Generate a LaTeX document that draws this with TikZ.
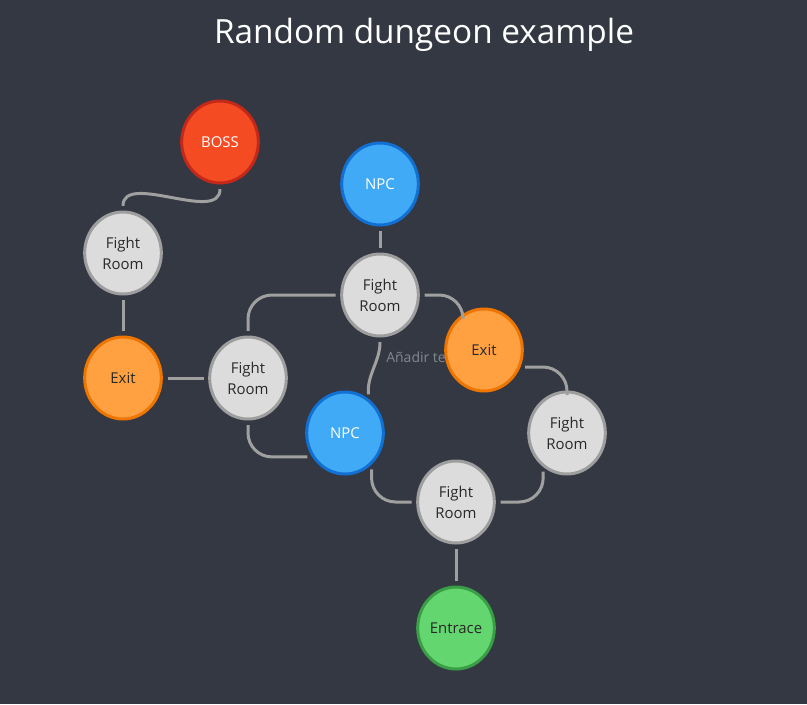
\documentclass[tikz,border=0pt]{standalone}
\usepackage{fontspec}
\setmainfont{Open Sans}
\usetikzlibrary{shapes.geometric}

\begin{document}
\begin{tikzpicture}[
    x=0.75pt, y=0.75pt,
    every node/.style={font=\fontsize{11.2}{15.75}\selectfont},
    room/.style={ellipse, draw=roomline, fill=roomfill, line width=2.25pt, minimum width=57.5pt, minimum height=61.5pt, inner sep=0pt, align=center, text=roomtext},
    bossroom/.style={room, draw=bossline, fill=bossfill, text=white},
    npcroom/.style={room, draw=npcline, fill=npcfill, text=white},
    exitroom/.style={room, draw=exitline, fill=exitfill},
    entryroom/.style={room, draw=entryline, fill=entryfill},
    link/.style={draw=linkgray, line width=2.25pt, shorten <=3.5pt, shorten >=3.5pt, rounded corners=18pt},
    notetext/.style={font=\fontsize{10.5}{12}\selectfont, text=notegray}
]
\definecolor{bgcolor}{RGB}{51,56,66}      % Dark slate
\definecolor{roomfill}{RGB}{220,220,220}  % Light grey
\definecolor{roomline}{RGB}{158,158,158}
\definecolor{roomtext}{RGB}{40,40,40}
\definecolor{bossfill}{RGB}{244,75,35}    % Red
\definecolor{bossline}{RGB}{196,40,25}
\definecolor{npcfill}{RGB}{64,170,246}    % Blue
\definecolor{npcline}{RGB}{18,112,210}
\definecolor{exitfill}{RGB}{255,160,65}   % Orange
\definecolor{exitline}{RGB}{238,118,0}
\definecolor{entryfill}{RGB}{100,214,112} % Green
\definecolor{entryline}{RGB}{58,158,70}
\definecolor{linkgray}{RGB}{160,160,160}
\definecolor{notegray}{RGB}{130,136,146}

% Background fixes the size of the page
\path[use as bounding box, fill=bgcolor] (0,0) rectangle (807,-704);

% Title
\node[font=\fontsize{25}{30}\selectfont, text=white] (title) at (424,-35) {Random dungeon example};

% Rooms
\node[bossroom] (boss) at (220,-142) {BOSS};
\node[npcroom] (npcTop) at (380,-184) {NPC};
\node[room] (fightA) at (123,-253) {Fight\\Room};
\node[exitroom] (exitLeft) at (123,-378) {Exit};
\node[room] (fightB) at (248,-378) {Fight\\Room};
\node[room] (fightC) at (380,-295) {Fight\\Room};
\node[npcroom] (npcMid) at (345,-433) {NPC};
\node[room] (fightD) at (567,-433) {Fight\\Room};
\node[room] (fightE) at (456,-502) {Fight\\Room};
\node[entryroom] (entrance) at (456,-628) {Entrace};

% Placeholder label, partly hidden by the exit
\node[notetext, anchor=west, inner sep=0pt] (note) at (386,-357) {Añadir te};
\node[exitroom] (exitRight) at (484,-350) {Exit};

% Corridors
\draw[link] (boss.south) to[out=-90,in=90] (fightA.north);
\draw[link] (fightA) -- (exitLeft);
\draw[link] (exitLeft) -- (fightB);
\draw[link] (fightB.north) |- (fightC.west);
\draw[link] (fightC) -- (npcTop);
\draw[link] (fightC.east) -| (exitRight.120);
\draw[link] (exitRight.-25) -| (fightD.north);
\draw[link] (fightD.-125) |- (fightE.east);
\draw[link] (npcMid.-50) |- (fightE.west);
\draw[link] (fightB.south) |- (npcMid.216);
\draw[link] (fightC.south) to[out=-90,in=95] (npcMid.55);
\draw[link] (fightE) -- (entrance);

\end{tikzpicture}
\end{document}
